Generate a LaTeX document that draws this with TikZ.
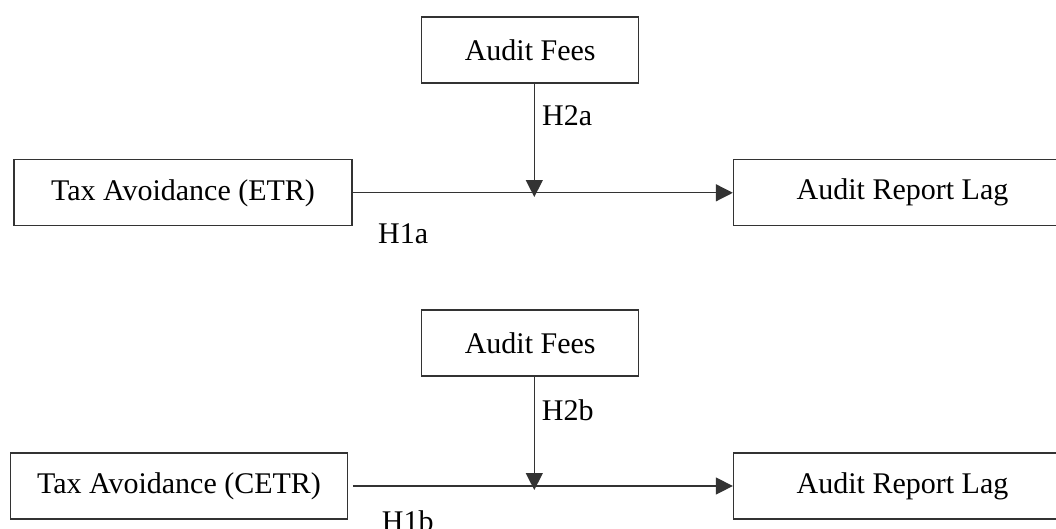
\documentclass[tikz,border=0pt]{standalone}
\usepackage{fontspec}
\setmainfont{Liberation Serif}
\usetikzlibrary{arrows.meta}

\begin{document}
\begin{tikzpicture}[x=1pt, y=-1pt,
	box/.style={draw=black!80, line width=1.3pt, minimum height=66pt, inner sep=0pt, font=\fontsize{30}{35}\selectfont},
	link/.style={draw=black!80, line width=1.3pt, -{Triangle[width=17pt,length=17pt]}},
	hyp/.style={anchor=west, inner sep=0pt, font=\fontsize{30}{35}\selectfont}]
	
	\useasboundingbox (0,0) rectangle (1056,528);
	
	% ETR model
	\node[box, minimum width=217pt] (fees1) at (530.2,50) {Audit Fees};
	\node[box, minimum width=338pt] (tax1) at (183,192.8) {Tax Avoidance (ETR)};
	\node[box, minimum width=338pt] (lag1) at (902.5,192.8) {Audit Report Lag};
	\coordinate (mod1) at (534.3,197);
	\draw[link] (tax1) -- (lag1);
	\draw[link] (fees1.south -| mod1) -- (mod1);
	\node[hyp] (h2a) at (542,116) {H2a};
	\node[hyp] (h1a) at (378,234) {H1a};
	
	% CETR model
	\node[box, minimum width=217pt] (fees2) at (530.2,343) {Audit Fees};
	\node[box, minimum width=336.6pt] (tax2) at (179,486) {Tax Avoidance (CETR)};
	\node[box, minimum width=338pt] (lag2) at (902.5,486) {Audit Report Lag};
	\coordinate (mod2) at (534.3,490);
	\draw[link, shorten <=5pt] (tax2) -- (lag2);
	\draw[link] (fees2.south -| mod2) -- (mod2);
	\node[hyp] (h2b) at (541.7,410) {H2b};
	\node[hyp] (h1b) at (381.7,521) {H1b};
\end{tikzpicture}
\end{document}
